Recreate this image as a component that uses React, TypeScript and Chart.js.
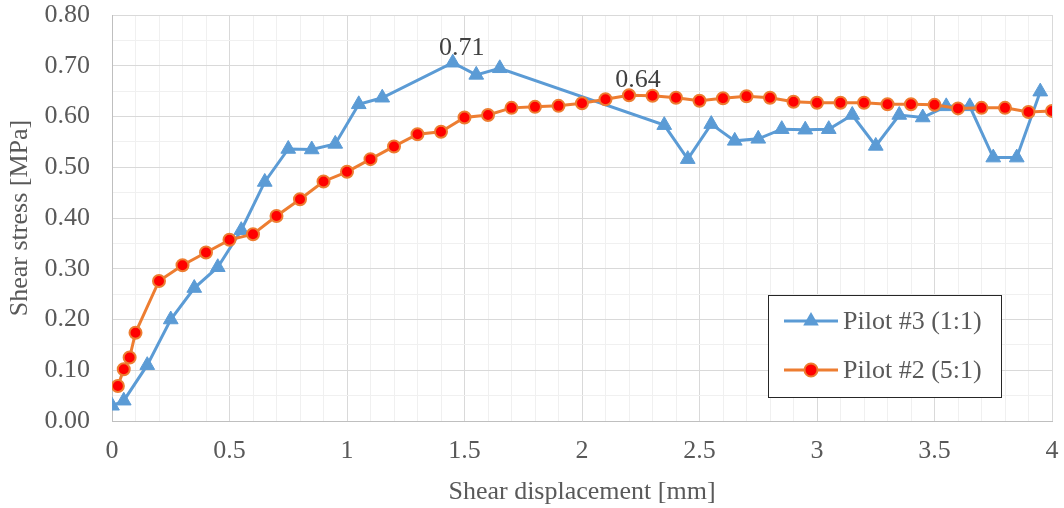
import React, { useEffect, useRef } from "react";
import { Chart, registerables } from "chart.js";

Chart.register(...registerables);

const FONT = "'Liberation Serif', 'Times New Roman', serif";
const FS = 26;

// Pilot #3 (1:1)
const pilot3X = [0, 0.05, 0.15, 0.25, 0.35, 0.45, 0.55, 0.65, 0.75, 0.85, 0.95, 1.05, 1.15, 1.45, 1.55, 1.65, 2.35, 2.45, 2.55, 2.65, 2.75, 2.85, 2.95, 3.05, 3.15, 3.25, 3.35, 3.45, 3.55, 3.65, 3.75, 3.85, 3.95];
const pilot3Y = [0.03, 0.04, 0.11, 0.2, 0.262, 0.303, 0.376, 0.471, 0.536, 0.535, 0.546, 0.624, 0.637, 0.706, 0.682, 0.695, 0.583, 0.516, 0.585, 0.552, 0.556, 0.575, 0.574, 0.575, 0.603, 0.542, 0.603, 0.598, 0.62, 0.62, 0.519, 0.519, 0.649];

// Pilot #2 (5:1)
const pilot2X = [0.025, 0.05, 0.075, 0.1, 0.2, 0.3, 0.4, 0.5, 0.6, 0.7, 0.8, 0.9, 1.0, 1.1, 1.2, 1.3, 1.4, 1.5, 1.6, 1.7, 1.8, 1.9, 2.0, 2.1, 2.2, 2.3, 2.4, 2.5, 2.6, 2.7, 2.8, 2.9, 3.0, 3.1, 3.2, 3.3, 3.4, 3.5, 3.6, 3.7, 3.8, 3.9, 4.0];
const pilot2Y = [0.069, 0.102, 0.125, 0.174, 0.276, 0.307, 0.332, 0.357, 0.368, 0.404, 0.437, 0.472, 0.491, 0.516, 0.541, 0.565, 0.57, 0.598, 0.603, 0.617, 0.619, 0.621, 0.626, 0.634, 0.642, 0.641, 0.637, 0.631, 0.636, 0.64, 0.637, 0.629, 0.627, 0.627, 0.627, 0.624, 0.624, 0.623, 0.616, 0.617, 0.617, 0.609, 0.611];

const seriesNames = ["Pilot #3 (1:1)", "Pilot #2 (5:1)"];
const xTitle = "Shear displacement [mm]";
const yTitle = "Shear stress [MPa]";

const BLUE = "#5B9BD5";
const ORANGE = "#ED7D31";
const RED = "#FF0000";
const TEXT = "#595959";
const MAJOR = "#d9d9d9";
const MINOR = "#f0f0f0";

function argMax(a: number[]) {
  let m = 0;
  a.forEach((v, i) => { if (v > a[m]) m = i; });
  return m;
}

const overlayPlugin = {
  id: "overlay",
  afterDatasetsDraw(chart: any) {
    const ctx = chart.ctx;
    ctx.save();
    ctx.font = `${FS}px ${FONT}`;
    ctx.fillStyle = "#404040";
    ctx.textAlign = "center";
    ctx.textBaseline = "middle";
    [pilot3Y, pilot2Y].forEach((ys, ds) => {
      const idx = argMax(ys);
      const el = chart.getDatasetMeta(ds).data[idx];
      ctx.fillText(ys[idx].toFixed(2), el.x + 9, el.y - 15);
    });

    // legend
    const bx = 768, by = 295, bw = 233, bh = 102;
    ctx.fillStyle = "#ffffff";
    ctx.fillRect(bx, by, bw, bh);
    ctx.strokeStyle = "#262626";
    ctx.lineWidth = 1;
    ctx.strokeRect(bx + 0.5, by + 0.5, bw, bh);
    const rows = [321, 370];
    rows.forEach((ry, i) => {
      ctx.strokeStyle = i === 0 ? BLUE : ORANGE;
      ctx.lineWidth = 3;
      ctx.beginPath();
      ctx.moveTo(784, ry);
      ctx.lineTo(838, ry);
      ctx.stroke();
      if (i === 0) {
        const r = 9;
        ctx.fillStyle = BLUE;
        ctx.beginPath();
        ctx.moveTo(811, ry - r);
        ctx.lineTo(811 + r * 0.866, ry + r * 0.5);
        ctx.lineTo(811 - r * 0.866, ry + r * 0.5);
        ctx.closePath();
        ctx.fill();
      } else {
        ctx.fillStyle = RED;
        ctx.strokeStyle = ORANGE;
        ctx.lineWidth = 2;
        ctx.beginPath();
        ctx.arc(811, ry, 6.5, 0, Math.PI * 2);
        ctx.fill();
        ctx.stroke();
      }
      ctx.fillStyle = TEXT;
      ctx.textAlign = "left";
      ctx.textBaseline = "middle";
      ctx.font = `${FS}px ${FONT}`;
      ctx.fillText(seriesNames[i], 843, ry + 1);
    });
    ctx.restore();
  },
};

export default function App() {
  const ref = useRef<HTMLCanvasElement>(null);
  useEffect(() => {
    if (!ref.current) return;
    const chart = new Chart(ref.current, {
      type: "line",
      data: {
        datasets: [
          {
            label: seriesNames[0],
            data: pilot3X.map((x, i) => ({ x, y: pilot3Y[i] })),
            borderColor: BLUE,
            backgroundColor: BLUE,
            pointBackgroundColor: BLUE,
            pointBorderColor: BLUE,
            pointStyle: "triangle",
            pointRadius: 8.5,
            pointBorderWidth: 1,
            borderWidth: 3,
            tension: 0,
            order: 1,
          },
          {
            label: seriesNames[1],
            data: pilot2X.map((x, i) => ({ x, y: pilot2Y[i] })),
            borderColor: ORANGE,
            backgroundColor: RED,
            pointBackgroundColor: RED,
            pointBorderColor: ORANGE,
            pointStyle: "circle",
            pointRadius: 6,
            pointBorderWidth: 2,
            borderWidth: 3,
            tension: 0,
            order: 0,
          },
        ],
      },
      options: {
        responsive: false,
        animation: false,
        events: [],
        layout: { padding: { top: 15, right: 12, left: 0, bottom: 0 } },
        plugins: { legend: { display: false }, tooltip: { enabled: false } },
        scales: {
          x: {
            type: "linear",
            min: 0,
            max: 4,
            afterFit: (s: any) => {
              s.height = 87;
              s.paddingLeft = 0;
              s.paddingRight = 0;
            },
            border: { display: true, color: "#bfbfbf", width: 1 },
            grid: {
              drawTicks: false,
              color: (c: any) => (Math.round(c.tick.value * 10) % 5 === 0 ? MAJOR : MINOR),
            },
            ticks: {
              stepSize: 0.1,
              maxTicksLimit: 100,
              autoSkip: false,
              maxRotation: 0,
              padding: 15,
              color: TEXT,
              font: { family: FONT, size: FS },
              callback: (v: any) => {
                const t = Math.round(Number(v) * 10);
                return t % 5 === 0 ? String(t / 10) : "";
              },
            },
            title: {
              display: true,
              text: xTitle,
              color: TEXT,
              font: { family: FONT, size: FS },
              padding: { top: 0, bottom: 0 },
            },
          },
          y: {
            type: "linear",
            min: 0,
            max: 0.8,
            afterFit: (s: any) => {
              s.width = 112;
              s.paddingTop = 0;
              s.paddingBottom = 0;
            },
            border: { display: true, color: "#bfbfbf", width: 1 },
            grid: {
              drawTicks: false,
              color: (c: any) => (Math.round(c.tick.value * 100) % 10 === 0 ? MAJOR : MINOR),
            },
            ticks: {
              stepSize: 0.05,
              maxTicksLimit: 100,
              autoSkip: false,
              padding: 22,
              color: TEXT,
              font: { family: FONT, size: FS },
              callback: (v: any) => {
                const t = Math.round(Number(v) * 100);
                return t % 10 === 0 ? (t / 100).toFixed(2) : "";
              },
            },
            title: {
              display: true,
              text: yTitle,
              color: TEXT,
              font: { family: FONT, size: FS },
              padding: { top: 5, bottom: 0 },
            },
          },
        },
      },
      plugins: [overlayPlugin],
    } as any);
    return () => chart.destroy();
  }, []);
  return (
    <div style={{ position: "fixed", left: 0, top: 0, width: 1064, height: 508, background: "#fff" }}>
      <canvas ref={ref} width={1064} height={508} style={{ display: "block" }} />
    </div>
  );
}
